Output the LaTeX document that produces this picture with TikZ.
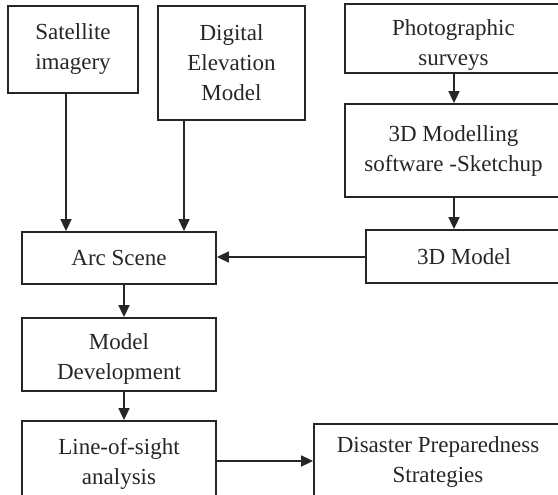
\documentclass[tikz,border=0pt]{standalone}
\usepackage{fontspec}
\setmainfont{Liberation Serif}
\usetikzlibrary{arrows.meta}
\newcommand\myraise[1]{\rule{0pt}{#1}}
\begin{document}
\begin{tikzpicture}[x=1pt,y=-1pt,
  box/.style={draw=black!85, line width=1.8pt, inner sep=0pt, align=center,
    text=black!85, font=\fontsize{23}{30}\selectfont},
  arr/.style={line width=1.7pt, draw=black!85,
    -{Triangle[length=12pt,width=11pt]}}]
\useasboundingbox (0,0) rectangle (558,495);
\clip (0,0) rectangle (558,495);
% boxes
\node[box, minimum width=130pt, minimum height=87pt] (sat) at (73,49.5) {Satellite\\imagery};
\node[box, minimum width=147pt, minimum height=114pt] (dem) at (231.5,63) {Digital\\Elevation\\Model};
\node[box, minimum width=217pt, minimum height=69pt] (photo) at (453.5,38.5) {\myraise{28pt}Photographic\\surveys};
\node[box, minimum width=217pt, minimum height=93pt] (sw) at (453.5,150.5) {3D Modelling\\software -Sketchup};
\node[box, minimum width=196pt, minimum height=53pt] (model3d) at (464,256.5) {3D Model};
\node[box, minimum width=194pt, minimum height=52pt] (arc) at (119,258) {Arc Scene};
\node[box, minimum width=194pt, minimum height=73pt] (dev) at (119,354.5) {\myraise{24pt}Model\\Development};
\node[box, minimum width=194pt, minimum height=79pt] (los) at (119,460.5) {\myraise{22pt}Line-of-sight\\analysis};
\node[box, minimum width=248pt, minimum height=76pt] (dis) at (438,462) {Disaster Preparedness\\Strategies};
% helper coordinates
\coordinate (xa) at (66,0);
\coordinate (xb) at (184,0);
\coordinate (xc) at (454,0);
\coordinate (xd) at (124,0);
\coordinate (ya) at (0,257);
\coordinate (yb) at (0,461);
% connectors
\draw[arr] (sat.south -| xa) -- (arc.north -| xa);
\draw[arr] (dem.south -| xb) -- (arc.north -| xb);
\draw[arr] (photo.south -| xc) -- (sw.north -| xc);
\draw[arr] (sw.south -| xc) -- (model3d.north -| xc);
\draw[arr] (model3d.west |- ya) -- (arc.east |- ya);
\draw[arr] (arc.south -| xd) -- (dev.north -| xd);
\draw[arr] (dev.south -| xd) -- (los.north -| xd);
\draw[arr] (los.east |- yb) -- (dis.west |- yb);
\end{tikzpicture}
\end{document}
